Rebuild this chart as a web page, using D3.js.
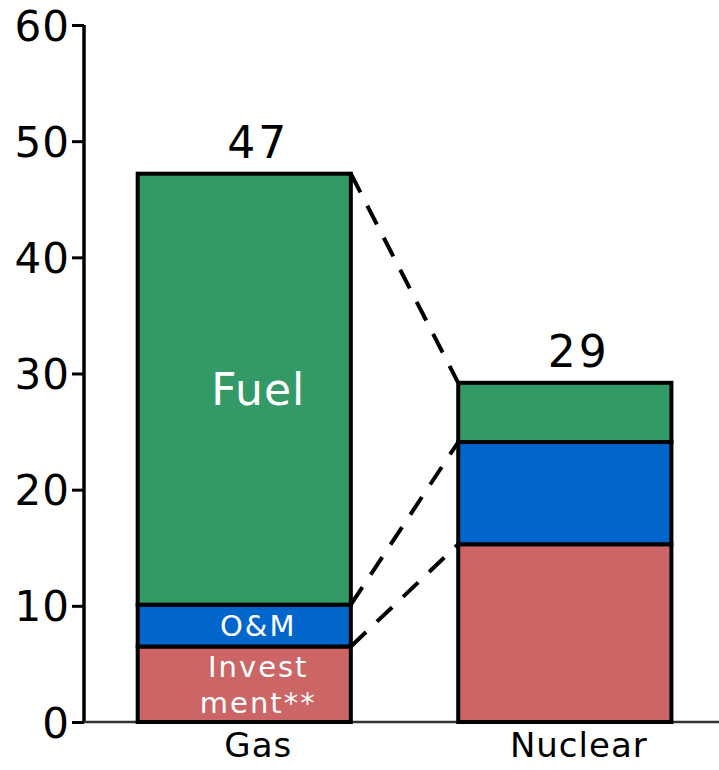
<!DOCTYPE html>
<html>
<head>
<meta charset="utf-8">
<script src="https://d3js.org/d3.v7.min.js"></script>
<style>
  body { margin: 0; background: #fff; }
  text { font-family: "DejaVu Sans", sans-serif; }
</style>
</head>
<body>
<div class="chart"></div>
<script>
// Stacked cost bars, gas vs nuclear

var categories = ["Gas", "Nuclear"];
var investment = [6.5, 15.3];
var om = [3.6, 8.8];
var fuel = [37.1, 5.1];
var yTicks = [0, 10, 20, 30, 40, 50, 60];
// labels only written inside the gas bar
var gasLabels = {
  investment: ["Invest", "ment**"],
  om: ["O&M"],
  fuel: ["Fuel"]
};

var svgWidth = 719;
var svgHeight = 770;

var margin = { top: 25, bottom: 48, left: 84, right: 0 };
var width = svgWidth - margin.left - margin.right;
var height = svgHeight - margin.top - margin.bottom;

var svg = d3.select(".chart")
  .append("svg")
  .attr("width", svgWidth)
  .attr("height", svgHeight);

var chartGroup = svg.append("g")
  .attr("transform", `translate(${margin.left}, ${margin.top})`);

var keys = ["investment", "om", "fuel"];
var colors = { investment: "#cc6666", om: "#0066cc", fuel: "#339966" };

var rows = categories.map(function(c, i) {
  return { cat: c, investment: investment[i], om: om[i], fuel: fuel[i] };
});

var stacked = d3.stack().keys(keys)(rows);

var xBandScale = d3.scaleBand()
  .domain(categories)
  .range([0, width])
  .paddingInner(0.335)
  .paddingOuter(0.158)
  .align(0.53);

var yLinearScale = d3.scaleLinear()
  .domain([0, 60])
  .range([height, 0]);

// y axis
var yAxis = d3.axisLeft(yLinearScale)
  .tickValues(yTicks)
  .tickSize(12)
  .tickPadding(2)
  .tickFormat(d3.format("d"));

var yAxisG = chartGroup.append("g").call(yAxis);
yAxisG.select(".domain")
  .attr("d", `M0,0V${height}`)
  .attr("stroke", "#000")
  .attr("stroke-width", 3.5);
yAxisG.selectAll(".tick line")
  .attr("stroke", "#000")
  .attr("stroke-width", 3);
yAxisG.selectAll(".tick text")
  .attr("font-family", "DejaVu Sans, sans-serif")
  .attr("font-size", "42px")
  .attr("letter-spacing", "1px")
  .attr("fill", "#000")
  .attr("dy", "0.36em");

// x axis baseline
chartGroup.append("line")
  .attr("x1", 0)
  .attr("x2", width)
  .attr("y1", height)
  .attr("y2", height)
  .attr("stroke", "#333")
  .attr("stroke-width", 2.5);

// bars
var layers = chartGroup.selectAll(".layer")
  .data(stacked)
  .enter()
  .append("g")
  .attr("class", "layer")
  .attr("fill", d => colors[d.key]);

layers.selectAll("rect")
  .data(d => d)
  .enter()
  .append("rect")
  .attr("x", d => xBandScale(d.data.cat))
  .attr("y", d => yLinearScale(d[1]))
  .attr("width", xBandScale.bandwidth())
  .attr("height", d => yLinearScale(d[0]) - yLinearScale(d[1]))
  .attr("stroke", "#000")
  .attr("stroke-width", 4);

// dashed connectors between the bars
var gasRight = xBandScale("Gas") + xBandScale.bandwidth();
var nucLeft = xBandScale("Nuclear");
stacked.forEach(function(layer) {
  chartGroup.append("line")
    .attr("x1", gasRight)
    .attr("y1", yLinearScale(layer[0][1]))
    .attr("x2", nucLeft)
    .attr("y2", yLinearScale(layer[1][1]))
    .attr("stroke", "#000")
    .attr("stroke-width", 4)
    .attr("stroke-dasharray", "21,15");
});

// segment labels in gas bar
var labelShift = 14;
stacked.forEach(function(layer) {
  var seg = layer[0];
  var lines = gasLabels[layer.key];
  var big = layer.key == "fuel";
  var fs = big ? 44 : 29;
  var lh = 36;
  var cy = yLinearScale((seg[0] + seg[1]) / 2);
  var t = chartGroup.append("text")
    .attr("x", xBandScale("Gas") + xBandScale.bandwidth() / 2 + labelShift)
    .attr("y", cy - (lines.length - 1) * lh / 2)
    .attr("text-anchor", "middle")
    .attr("font-size", fs + "px")
    .attr("letter-spacing", big ? "1px" : "2px")
    .attr("fill", "#fff");
  lines.forEach(function(s, i) {
    t.append("tspan")
      .attr("x", xBandScale("Gas") + xBandScale.bandwidth() / 2 + labelShift)
      .attr("dy", i == 0 ? "0.36em" : lh)
      .text(s);
  });
});

// totals above bars
chartGroup.selectAll(".total")
  .data(rows)
  .enter()
  .append("text")
  .attr("class", "total")
  .attr("x", d => xBandScale(d.cat) + xBandScale.bandwidth() / 2 + labelShift)
  .attr("y", d => yLinearScale(d.investment + d.om + d.fuel) - 16)
  .attr("text-anchor", "middle")
  .attr("font-size", "44px")
  .attr("letter-spacing", "3px")
  .attr("fill", "#000")
  .text(d => Math.round(d.investment + d.om + d.fuel));

// category labels
chartGroup.selectAll(".cat")
  .data(categories)
  .enter()
  .append("text")
  .attr("class", "cat")
  .attr("x", d => xBandScale(d) + xBandScale.bandwidth() / 2 + labelShift)
  .attr("y", height + 35)
  .attr("text-anchor", "middle")
  .attr("font-size", "34px")
  .attr("letter-spacing", "1px")
  .attr("fill", "#000")
  .text(d => d);
</script>
</body>
</html>
